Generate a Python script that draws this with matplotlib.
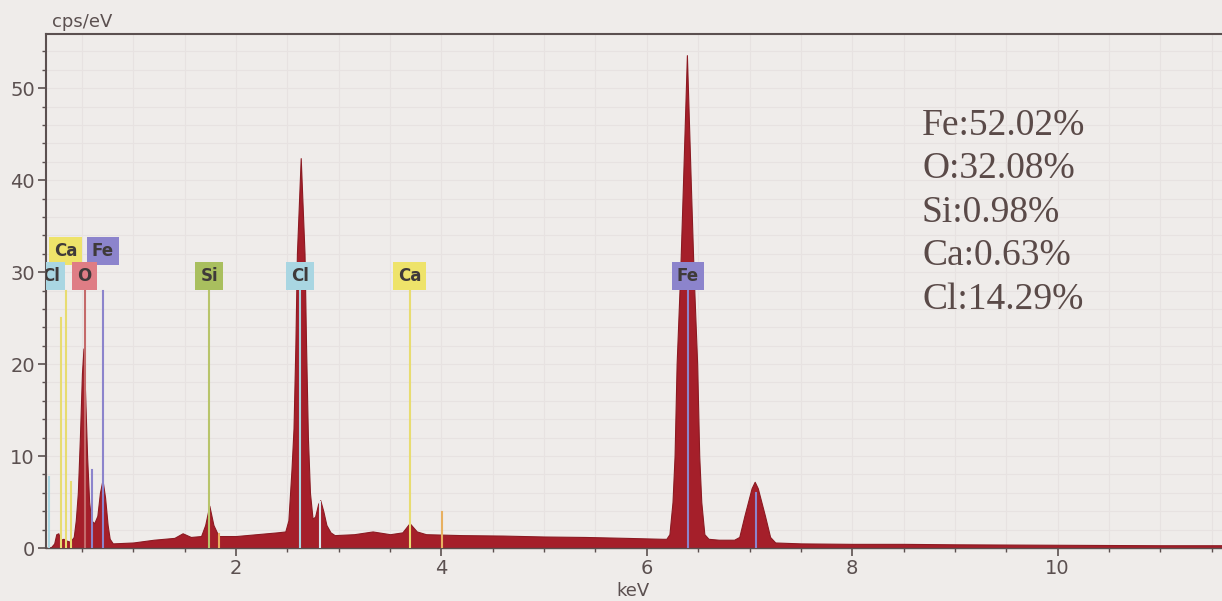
import matplotlib
matplotlib.use('Agg')
import matplotlib.pyplot as plt
from matplotlib.ticker import MultipleLocator

# spectrum (keV, cps/eV)
energy_kev = [0.15, 0.20, 0.23, 0.25, 0.27, 0.29, 0.32, 0.35, 0.38, 0.40, 0.42, 0.44, 0.46,
              0.48, 0.50, 0.515, 0.53, 0.55, 0.57, 0.59, 0.62, 0.65, 0.675, 0.70, 0.725,
              0.75, 0.77, 0.80, 1.00, 1.20, 1.40, 1.48, 1.56, 1.66, 1.70, 1.74, 1.78, 1.83,
              2.00, 2.20, 2.40, 2.48, 2.51, 2.54, 2.56, 2.578, 2.593, 2.63, 2.667, 2.682,
              2.70, 2.72, 2.745, 2.77, 2.80, 2.82, 2.85, 2.88, 2.92, 2.96,
              3.15, 3.33, 3.50, 3.62, 3.69, 3.76, 3.85, 4.20, 4.60, 5.00, 5.40, 5.80, 6.15,
              6.19, 6.22, 6.25, 6.27, 6.29, 6.325, 6.353, 6.39, 6.427, 6.455, 6.49, 6.51,
              6.53, 6.56, 6.60, 6.70, 6.85, 6.90, 6.95, 7.02, 7.05, 7.08, 7.15, 7.20, 7.25,
              7.50, 8.00, 8.50, 9.00, 10.0, 11.0, 11.6]
cps = [0.0, 0.1, 0.5, 1.5, 1.6, 0.9, 1.0, 0.8, 0.7, 0.9, 1.2, 3.0, 6.0,
       12.0, 19.0, 21.7, 17.0, 10.0, 5.0, 3.0, 2.7, 3.5, 6.0, 7.4, 5.5,
       2.5, 1.0, 0.5, 0.6, 0.9, 1.1, 1.6, 1.2, 1.3, 2.5, 4.6, 2.5, 1.3,
       1.3, 1.5, 1.7, 1.8, 3.0, 8.5, 13.0, 22.0, 32.0, 42.4, 32.0, 22.0,
       12.0, 6.0, 3.2, 3.4, 4.8, 5.2, 4.0, 2.5, 1.7, 1.4,
       1.5, 1.8, 1.5, 1.7, 2.7, 1.8, 1.5, 1.4, 1.35, 1.25, 1.2, 1.1, 1.0,
       1.0, 1.5, 5.0, 10.0, 20.0, 30.0, 40.0, 53.6, 40.0, 30.0, 20.0, 10.0,
       5.0, 1.5, 1.0, 0.9, 0.9, 1.2, 3.5, 6.5, 7.2, 6.5, 3.5, 1.2, 0.6,
       0.5, 0.45, 0.45, 0.4, 0.35, 0.3, 0.3]

# element marker lines: energy, height, colour
line_kev = [0.18, 0.30, 0.341, 0.39, 0.525, 0.60, 0.705, 1.74, 1.835, 2.62, 2.815, 3.69, 4.01, 6.40, 7.06]
line_top = [7.7, 25.0, 28.0, 7.2, 28.0, 8.5, 28.0, 28.0, 1.5, 28.0, 5.0, 28.0, 3.9, 28.0, 6.0]
line_col = ['#a9d6e2', '#e8dc70', '#e8dc70', '#e8dc70', '#c46a6a', '#8c84cc', '#8c84cc',
            '#b8c46a', '#e8b060', '#a9d6e2', '#d8e8ee', '#e8dc70', '#e8b060', '#8c84cc', '#8c84cc']

# element tags: text, energy, row level, box colour
tag_text = ['Ca', 'Fe', 'Cl', 'O', 'Si', 'Cl', 'Ca', 'Fe']
tag_kev = [0.341, 0.705, 0.20, 0.525, 1.74, 2.62, 3.69, 6.40]
tag_y = [32.3, 32.3, 29.6, 29.6, 29.6, 29.6, 29.6, 29.6]
tag_col = ['#eee36a', '#8c84cc', '#a9d6e2', '#df7d85', '#a9bf5e', '#a9d6e2', '#eee36a', '#8c84cc']

composition = ['Fe:52.02%', 'O:32.08%', 'Si:0.98%', 'Ca:0.63%', 'Cl:14.29%']

bg = '#efecea'
ink = '#5b5050'

fig = plt.figure(figsize=(12.22, 6.01), dpi=100, facecolor=bg)
ax = fig.add_axes([46 / 1222, 1 - 548 / 601, 1176 / 1222, 514 / 601])
ax.set_facecolor(bg)

ax.fill_between(energy_kev, cps, 0, color='#a51f2a', linewidth=0.8, edgecolor='#8c1a22', zorder=2)

for e, top, c in zip(line_kev, line_top, line_col):
    ax.plot([e, e], [0, top], color=c, linewidth=1.5, zorder=3)

for t, e, y, c in zip(tag_text, tag_kev, tag_y, tag_col):
    ax.text(e, y, t, ha='center', va='center', fontsize=12, fontweight='bold', color='#3f3a3a',
            clip_on=True, zorder=4,
            bbox=dict(boxstyle='square,pad=0.3', facecolor=c, edgecolor='none'))

ax.set_xlim(0.15, 11.6)
ax.set_ylim(0, 55.9)
ax.xaxis.set_major_locator(MultipleLocator(2))
ax.xaxis.set_minor_locator(MultipleLocator(0.5))
ax.yaxis.set_major_locator(MultipleLocator(10))
ax.yaxis.set_minor_locator(MultipleLocator(2))
ax.tick_params(which='major', length=6, width=1.2, color=ink, labelcolor=ink, labelsize=14, pad=2)
ax.tick_params(which='minor', length=3, width=1.0, color=ink)
ax.grid(which='both', color='#e7e2e1', linewidth=0.8, zorder=0)
ax.set_axisbelow(True)

for side in ['left', 'top', 'bottom']:
    ax.spines[side].set_color(ink)
    ax.spines[side].set_linewidth(1.5)
ax.spines['right'].set_visible(False)
ax.spines['bottom'].set_linewidth(1.0)

fig.text(52 / 1222, 1 - 27 / 601, 'cps/eV', fontsize=13, color=ink, va='baseline', ha='left')
fig.text(633 / 1222, 1 - 591 / 601, 'keV', fontsize=13, color=ink, va='center', ha='center')

fig.text(922 / 1222, 1 - 108 / 601, '\n'.join(composition), fontsize=27, color='#5a4a48',
         family='Liberation Serif', va='top', ha='left', linespacing=1.34)

fig.savefig('out.png', dpi=100, facecolor=bg)
